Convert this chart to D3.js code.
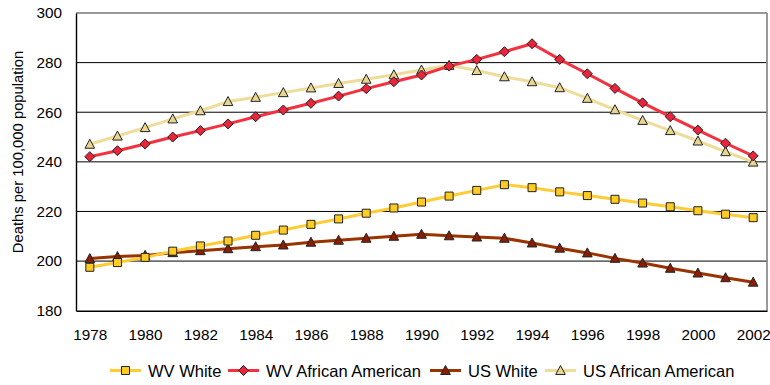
<!DOCTYPE html>
<html>
<head>
<meta charset="utf-8">
<script src="https://cdn.jsdelivr.net/npm/d3@7"></script>
<style>
  html, body { margin: 0; padding: 0; background: #fff; }
  svg { display: block; font-family: "Liberation Sans", Arial, sans-serif; }
</style>
</head>
<body>
<svg id="chart" width="770" height="385"></svg>
<script>
// Years on the category axis
const years = [1978, 1979, 1980, 1981, 1982, 1983, 1984, 1985, 1986, 1987, 1988, 1989,
  1990, 1991, 1992, 1993, 1994, 1995, 1996, 1997, 1998, 1999, 2000, 2001, 2002];

// Deaths per 100,000 population
const wvWhite = [197.5, 199.4, 201.5, 204.0, 206.1, 208.1, 210.4, 212.5, 214.8, 217.0, 219.3, 221.4,
  223.8, 226.2, 228.5, 230.8, 229.6, 227.9, 226.4, 224.9, 223.4, 221.9, 220.3, 218.9, 217.5];
const wvAfricanAmerican = [242.1, 244.5, 247.2, 250.0, 252.6, 255.3, 258.2, 260.9, 263.6, 266.5, 269.5, 272.3,
  275.0, 278.6, 281.3, 284.4, 287.6, 281.3, 275.5, 269.6, 263.8, 258.2, 252.8, 247.5, 242.4];
const usWhite = [201.0, 201.8, 202.3, 203.4, 204.2, 205.0, 205.8, 206.5, 207.6, 208.4, 209.2, 210.0,
  210.8, 210.2, 209.7, 209.2, 207.3, 205.2, 203.3, 201.1, 199.2, 197.1, 195.2, 193.3, 191.5];
const usAfricanAmerican = [247.1, 250.4, 253.8, 257.3, 260.6, 264.3, 266.0, 267.9, 269.8, 271.6, 273.3, 275.1,
  277.0, 278.9, 276.8, 274.3, 272.3, 269.9, 265.6, 261.0, 256.7, 252.6, 248.4, 244.1, 239.9];

const yTicks = [180, 200, 220, 240, 260, 280, 300];
const xTickYears = [1978, 1980, 1982, 1984, 1986, 1988, 1990, 1992, 1994, 1996, 1998, 2000, 2002];
const yTitle = "Deaths per 100,000 population";

const series = [
  { name: "WV White", values: wvWhite, line: "#FFCC33", fill: "#FFCC22", shape: "square" },
  { name: "WV African American", values: wvAfricanAmerican, line: "#F5303F", fill: "#E8253A", shape: "diamond" },
  { name: "US White", values: usWhite, line: "#993300", fill: "#8B1E00", shape: "triangle" },
  { name: "US African American", values: usAfricanAmerican, line: "#EEDD99", fill: "#E8D690", shape: "triangle" }
];

const svg = d3.select("#chart");
const plot = { left: 76, right: 767, top: 13, bottom: 310.7 };

const x = d3.scalePoint().domain(years).range([plot.left, plot.right]).padding(0.5);
const y = d3.scaleLinear().domain([180, 300]).range([plot.bottom, plot.top]);

// Horizontal gridlines
svg.append("g")
  .selectAll("line")
  .data(yTicks.filter(t => t > 180 && t < 300))
  .join("line")
  .attr("x1", plot.left).attr("x2", plot.right)
  .attr("y1", d => y(d)).attr("y2", d => y(d))
  .attr("stroke", "#000").attr("stroke-width", 1);

// Plot frame
svg.append("line").attr("x1", plot.left).attr("x2", plot.right)
  .attr("y1", plot.top).attr("y2", plot.top).attr("stroke", "#333").attr("stroke-width", 1.2);
svg.append("line").attr("x1", plot.right).attr("x2", plot.right)
  .attr("y1", plot.top).attr("y2", plot.bottom).attr("stroke", "#808080").attr("stroke-width", 1.6);

// Axes
const tickFont = "15.3px";
const yAxis = d3.axisLeft(y).tickValues(yTicks).tickSize(0).tickPadding(14);
const gy = svg.append("g").attr("transform", `translate(${plot.left},0)`).call(yAxis);
gy.select(".domain").attr("stroke", "#000").attr("stroke-width", 1.4);
gy.selectAll("text").attr("font-size", tickFont).attr("fill", "#000")
  .attr("font-family", "Liberation Sans, Arial, sans-serif");

const xAxis = d3.axisBottom(x).tickValues(xTickYears).tickSize(0).tickPadding(18);
const gx = svg.append("g").attr("transform", `translate(0,${plot.bottom})`).call(xAxis);
gx.select(".domain").attr("stroke", "#000").attr("stroke-width", 1.4);
gx.selectAll("text").attr("font-size", tickFont).attr("fill", "#000")
  .attr("font-family", "Liberation Sans, Arial, sans-serif");

// Y-axis title
svg.append("text")
  .attr("transform", "translate(23,152) rotate(-90)")
  .attr("text-anchor", "middle")
  .attr("font-size", "14.8px")
  .attr("fill", "#000")
  .text(yTitle);

// Marker path generator
function markerPath(shape, cx, cy) {
  if (shape === "square") {
    const s = 4;
    return `M${cx - s},${cy - s}H${cx + s}V${cy + s}H${cx - s}Z`;
  }
  if (shape === "diamond") {
    const s = 5;
    return `M${cx},${cy - s}L${cx + s},${cy}L${cx},${cy + s}L${cx - s},${cy}Z`;
  }
  // triangle
  const w = 4.8, h = 4;
  return `M${cx},${cy - h - 1}L${cx + w},${cy + h}L${cx - w},${cy + h}Z`;
}

const line = d3.line().x((d, i) => x(years[i])).y(d => y(d));

// Draw series back to front
const drawOrder = [series[3], series[2], series[0], series[1]];
drawOrder.forEach(s => {
  const g = svg.append("g");
  g.append("path")
    .attr("d", line(s.values))
    .attr("fill", "none")
    .attr("stroke", s.line)
    .attr("stroke-width", 3)
    .attr("stroke-linejoin", "round");
  g.selectAll("path.mk")
    .data(s.values)
    .join("path")
    .attr("class", "mk")
    .attr("d", (d, i) => markerPath(s.shape, x(years[i]), y(d)))
    .attr("fill", s.fill)
    .attr("stroke", "#222")
    .attr("stroke-width", 1);
});

// Legend
const legendItems = [
  { s: series[0], x0: 110 },
  { s: series[1], x0: 228 },
  { s: series[2], x0: 430 },
  { s: series[3], x0: 545 }
];
const legendY = 370.5;
const lg = svg.append("g");
legendItems.forEach(it => {
  const g = lg.append("g");
  g.append("line")
    .attr("x1", it.x0).attr("x2", it.x0 + 31)
    .attr("y1", legendY).attr("y2", legendY)
    .attr("stroke", it.s.line).attr("stroke-width", 3);
  g.append("path")
    .attr("d", markerPath(it.s.shape, it.x0 + 15.5, legendY))
    .attr("fill", it.s.fill).attr("stroke", "#222").attr("stroke-width", 1);
  g.append("text")
    .attr("x", it.x0 + 38)
    .attr("y", legendY + 1)
    .attr("dy", "0.35em")
    .attr("font-size", "16.5px")
    .attr("fill", "#000")
    .text(it.s.name);
});
</script>
</body>
</html>
